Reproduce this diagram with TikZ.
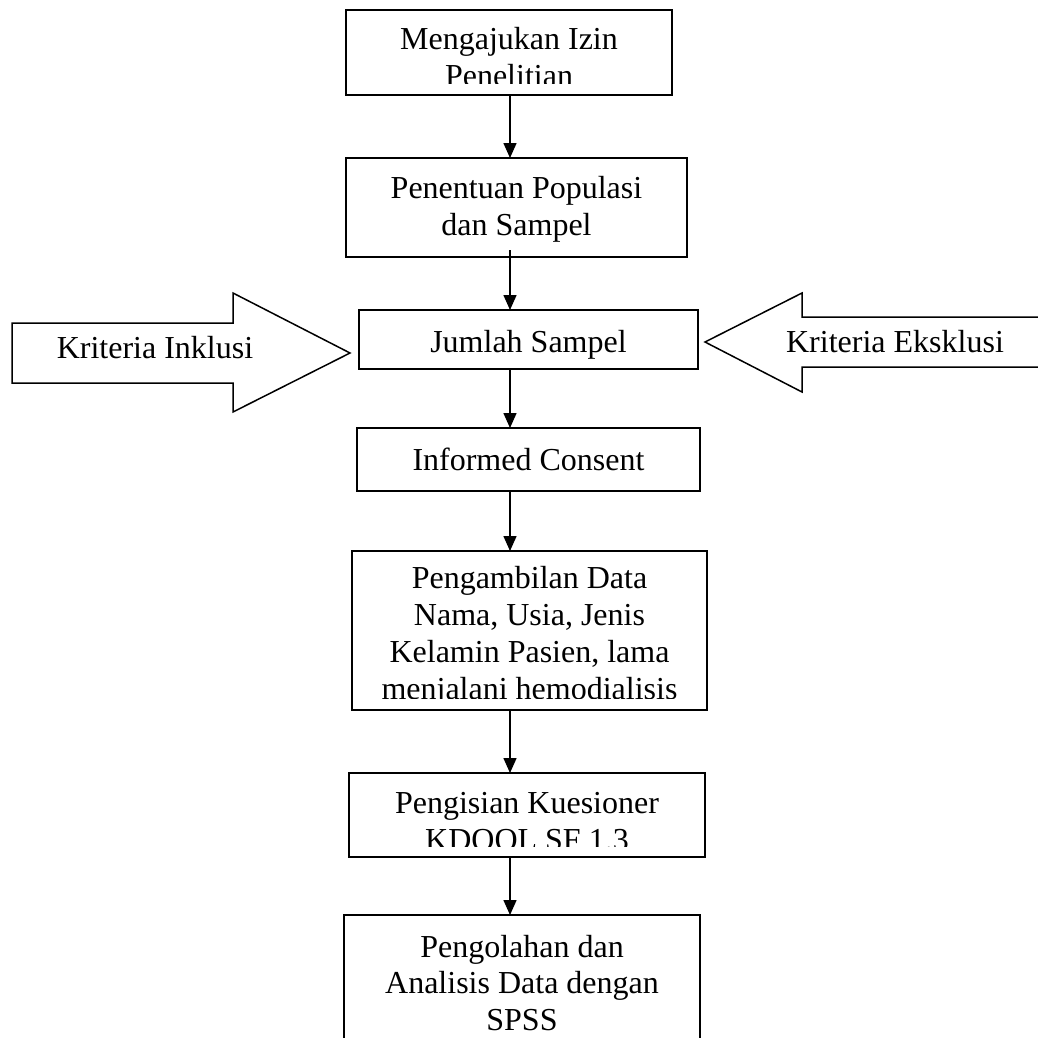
\documentclass[tikz,border=0pt]{standalone}
\usepackage{fontspec}
\setmainfont{Liberation Serif}
\usetikzlibrary{arrows.meta,calc}
\begin{document}
\begin{tikzpicture}[x=1pt,y=-1pt,
  box/.style={draw, line width=1.5pt, inner sep=0pt, outer sep=0pt},
  openbox/.style={inner sep=0pt, outer sep=0pt},
  txt/.style={anchor=base, inner sep=0pt, outer sep=0pt, font=\fontsize{32}{37}\selectfont},
  arr/.style={line width=1.5pt, -{Triangle[length=15pt,width=13pt]}},
  bigarrow/.style={draw, line width=1.5pt, line join=miter}]
\useasboundingbox (0,0) rectangle (1038,1037);

% boxes
\node[box, minimum width=326pt, minimum height=85pt] (b1) at (509,52.5) {};
\node[box, minimum width=341pt, minimum height=99pt] (b2) at (516.5,207.5) {};
\node[box, minimum width=339pt, minimum height=59pt] (b3) at (528.5,339.5) {};
\node[box, minimum width=343pt, minimum height=63pt] (b4) at (528.5,459.5) {};
\node[box, minimum width=355pt, minimum height=159pt] (b5) at (529.5,630.5) {};
\node[box, minimum width=356pt, minimum height=84pt] (b6) at (527,815) {};
\node[openbox, minimum width=356pt, minimum height=130pt] (b7) at (522,980) {};
\draw[line width=1.5pt] (b7.south west) -- (b7.north west) -- (b7.north east) -- (b7.south east);

% texts (clipped as in the source)
\begin{scope}
  \clip (346,10) rectangle (672,83);
  \node[txt] (t1a) at (509,49) {Mengajukan Izin};
  \node[txt] (t1b) at (509,86) {Penelitian};
\end{scope}
\node[txt] (t2a) at (516.5,198) {Penentuan Populasi};
\node[txt] (t2b) at (516.5,235) {dan Sampel};
\node[txt] (t3) at (528.5,352) {Jumlah Sampel};
\node[txt] (t4) at (528.5,470) {Informed Consent};
\begin{scope}
  \clip (352,551) rectangle (707,698);
  \node[txt] (t5a) at (529.5,588) {Pengambilan Data};
  \node[txt] (t5b) at (529.5,625) {Nama, Usia, Jenis};
  \node[txt] (t5c) at (529.5,662) {Kelamin Pasien, lama};
  \node[txt] (t5d) at (529.5,699) {menjalani hemodialisis};
\end{scope}
\begin{scope}
  \clip (349,773) rectangle (705,846);
  \node[txt] (t6a) at (527,813) {Pengisian Kuesioner};
  \node[txt] (t6b) at (527,850) {KDQOL SF 1.3};
\end{scope}
\node[txt] (t7a) at (522,957) {Pengolahan dan};
\node[txt] (t7b) at (522,993) {Analisis Data dengan};
\node[txt] (t7c) at (522,1030) {SPSS};

% connectors
\coordinate (ax) at (510,0);
\draw[arr] (b1.south -| ax) -- (b2.north -| ax);
\draw[arr] ($(b2.south -| ax)+(0,-7)$) -- (b3.north -| ax);
\draw[arr] (b3.south -| ax) -- (b4.north -| ax);
\draw[arr] (b4.south -| ax) -- (b5.north -| ax);
\draw[arr] (b5.south -| ax) -- (b6.north -| ax);
\draw[arr] (b6.south -| ax) -- (b7.north -| ax);

% block arrows
\draw[bigarrow] (12,323) -- (233,323) -- (233,293) -- (350,353) -- (233,412) -- (233,383) -- (12,383) -- cycle;
\node[txt] (inkl) at (155,358) {Kriteria Inklusi};
\draw[bigarrow] (1040,317) -- (802,317) -- (802,293) -- (705,342) -- (802,392) -- (802,367) -- (1040,367);
\node[txt] (eksk) at (895,352) {Kriteria Eksklusi};
\end{tikzpicture}
\end{document}
